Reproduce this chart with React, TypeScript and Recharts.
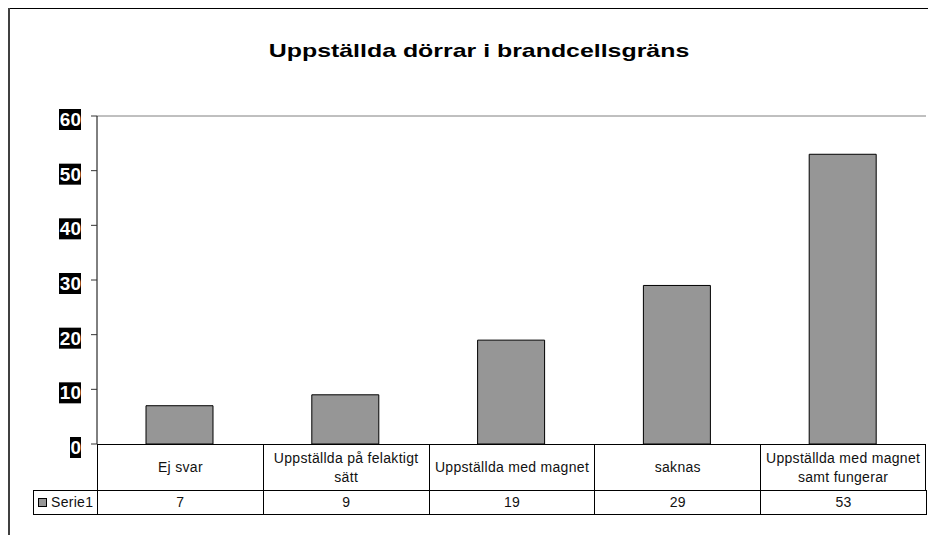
import React from 'react';
import { BarChart, Bar, XAxis, YAxis, ReferenceLine } from 'recharts';

const categories = [
  'Ej svar',
  'Uppställda på felaktigt sätt',
  'Uppställda med magnet',
  'saknas',
  'Uppställda med magnet samt fungerar',
];
const serie1 = [7, 9, 19, 29, 53];
const yTicks = [0, 10, 20, 30, 40, 50, 60];
const seriesName = 'Serie1';
const title = 'Uppställda dörrar i brandcellsgräns';

const data = categories.map((name, i) => ({ name, value: serie1[i] }));

const FONT = '"Liberation Sans", Arial, sans-serif';
const PLOT_LEFT = 97;
const PLOT_RIGHT = 926;
const COL_W = (PLOT_RIGHT - PLOT_LEFT) / categories.length;

function YTick(props: any) {
  const { x, y, payload } = props;
  const label = String(payload.value);
  const w = label.length * 11;
  return (
    <g>
      <rect x={x - w} y={y - 7} width={w} height={21} fill="#000" />
      <text x={x} y={y + 10} textAnchor="end" fill="#fff" fontSize={19} fontWeight="bold" fontFamily={FONT}>
        {label}
      </text>
    </g>
  );
}

const cellText: React.CSSProperties = {
  fontSize: 14,
  letterSpacing: 0.3,
  lineHeight: '19px',
  color: '#111',
  textAlign: 'center',
};

export default function App() {
  return (
    <div style={{ position: 'relative', margin: '-8px 0 0 -8px', width: 936, height: 535, overflow: 'hidden', background: '#fff', fontFamily: FONT }}>
      <div
        style={{
          position: 'absolute',
          left: 478.5,
          top: 41,
          fontSize: 19,
          lineHeight: '19px',
          fontWeight: 'bold',
          whiteSpace: 'nowrap',
          transform: 'translateX(-50%) scaleX(1.31)',
          color: '#000',
        }}
      >
        {title}
      </div>

      <div style={{ position: 'absolute', left: 0, top: 0 }}>
        <BarChart width={936} height={535} data={data} margin={{ top: 116, right: 10, bottom: 91, left: 37 }}>
          <XAxis dataKey="name" hide />
          <YAxis
            domain={[0, 60]}
            ticks={yTicks}
            width={60}
            interval={0}
            axisLine={{ stroke: '#000' }}
            tickLine={{ stroke: '#333' }}
            tickSize={6}
            tickMargin={10}
            tick={<YTick />}
          />
          <YAxis yAxisId="r" orientation="right" domain={[0, 60]} width={0} tick={false} tickLine={false} axisLine={{ stroke: '#808080' }} />
          <ReferenceLine y={60} stroke="#808080" />
          <Bar dataKey="value" fill="#969696" stroke="#000" strokeWidth={1} barSize={67} isAnimationActive={false} />
        </BarChart>
      </div>

      {/* data table */}
      <div style={{ position: 'absolute', left: PLOT_LEFT, top: 444, width: PLOT_RIGHT - PLOT_LEFT, height: 46, borderTop: '1px solid #000', boxSizing: 'border-box', display: 'flex' }}>
        {categories.map((c, i) => (
          <div
            key={c}
            style={{
              width: COL_W,
              height: 45,
              boxSizing: 'border-box',
              borderLeft: '1px solid #000',
              borderRight: i === categories.length - 1 ? '1px solid #000' : undefined,
              display: 'flex',
              alignItems: 'center',
              justifyContent: 'center',
              padding: '0 4px',
              ...cellText,
            }}
          >
            {c}
          </div>
        ))}
      </div>
      <div style={{ position: 'absolute', left: 33, top: 490, width: PLOT_RIGHT - 33 + 1, height: 25, border: '1px solid #000', boxSizing: 'border-box', display: 'flex' }}>
        <div style={{ width: PLOT_LEFT - 33 - 1, display: 'flex', alignItems: 'center', ...cellText, textAlign: 'left' }}>
          <span style={{ display: 'inline-block', width: 7, height: 7, background: '#969696', border: '1px solid #000', margin: '0 4px 0 4px' }} />
          {seriesName}
        </div>
        {serie1.map((v, i) => (
          <div
            key={i}
            style={{ width: COL_W, boxSizing: 'border-box', borderLeft: '1px solid #000', display: 'flex', alignItems: 'center', justifyContent: 'center', ...cellText }}
          >
            {v}
          </div>
        ))}
      </div>

      {/* outer chart frame (kept inside the visible page area) */}
      <svg width={936} height={535} style={{ position: 'absolute', left: 0, top: 0, pointerEvents: 'none' }}>
        <line x1={8} y1={8.5} x2={936} y2={8.5} stroke="#000" strokeWidth={1} />
        <line x1={9} y1={8} x2={9} y2={535} stroke="#404040" strokeWidth={2} />
      </svg>
    </div>
  );
}
